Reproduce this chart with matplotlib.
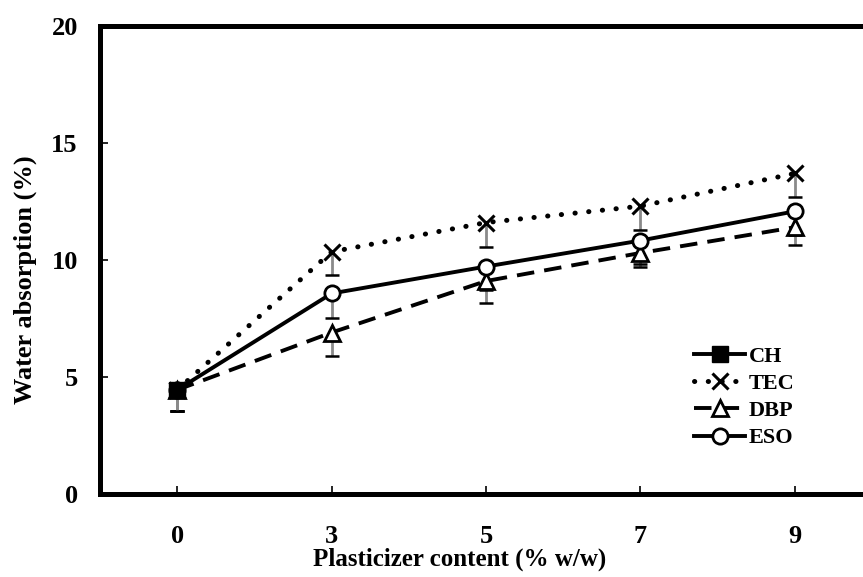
import numpy as np
from matplotlib import pyplot as plt
from matplotlib.lines import Line2D

plt.rcParams['font.family'] = ['Liberation Serif', 'DejaVu Serif']
plt.rcParams['font.weight'] = 'bold'

# data
categories = ['0', '3', '5', '7', '9']
ch = [4.45]
ch_err = [0.9]
tec = [4.45, 10.35, 11.6, 12.3, 13.7]
tec_err = [0.9, 1.0, 1.05, 1.0, 1.0]
dbp = [4.45, 6.9, 9.1, 10.3, 11.4]
dbp_err = [0.9, 1.0, 0.95, 0.6, 0.75]
eso = [4.45, 8.57, 9.72, 10.83, 12.08]
eso_err = [0.9, 1.05, 1.0, 1.0, 1.0]

W, H = 863, 577
fig = plt.figure(figsize=(W / 100, H / 100), dpi=100)
# axes box in pixels: left 100, right 872 (cut by figure edge), top 26, bottom 494
ax = fig.add_axes([100 / W, (H - 494) / H, 772 / W, 468 / H])

x = np.arange(len(categories))

dotted = (0, (0.05, 2.7))
dashed = (0, (4.5, 2.6))


def lower_errors(xs, ys, errs, z):
    # only the minus side of the bars shows in the picture
    ys = np.asarray(ys)
    errs = np.asarray(errs)
    ax.vlines(xs, ys - errs, ys, color='#8a8a8a', lw=2, zorder=z)
    ax.hlines(ys - errs, xs - 0.045, xs + 0.045, color='black', lw=1.8, zorder=z)


lower_errors(x, tec, tec_err, 2)
lower_errors(x, dbp, dbp_err, 2)
lower_errors(x, eso, eso_err, 2)
lower_errors(x[:1], ch, ch_err, 2)

ax.plot(x, tec, color='black', lw=3.6, linestyle=dotted, dash_capstyle='round',
        marker='x', ms=12, mew=2.2, zorder=3)
ax.plot(x, dbp, color='black', lw=2.8, linestyle=dashed,
        marker='^', ms=11, mfc='white', mec='black', mew=2, zorder=4)
ax.plot(x, eso, color='black', lw=2.8, linestyle='-',
        marker='o', ms=11, mfc='white', mec='black', mew=2, zorder=5)
ax.plot(x[:1], ch, color='black', lw=2.8, linestyle='-',
        marker='s', ms=12, mfc='black', mec='black', zorder=6)

ax.set_xlim(-0.5, len(categories) - 0.5)
ax.set_ylim(0, 20)
ax.set_yticks([0, 5, 10, 15, 20])
ax.set_xticks(x)
ax.set_xticklabels(categories)

for s in ['left', 'bottom', 'top', 'right']:
    ax.spines[s].set_linewidth(3.6)
ax.tick_params(axis='both', direction='in', length=6, width=1.2, labelsize=19)
ax.tick_params(axis='y', pad=16)
ax.tick_params(axis='x', pad=22)

ax.set_xlabel('Plasticizer content (% w/w)', fontsize=18, fontweight='bold', va='center')
ax.xaxis.set_label_coords((460 - 100) / 772, (494 - 559) / 468)
ax.set_ylabel('Water absorption (%)', fontsize=19, fontweight='bold', va='center')
ax.yaxis.set_label_coords((25 - 100) / 772, (494 - 280) / 468)

handles = [
    Line2D([], [], color='black', lw=2.8, marker='s', ms=12, mfc='black'),
    Line2D([], [], color='black', lw=3.6, linestyle=dotted, dash_capstyle='round',
           marker='x', ms=12, mew=2.2),
    Line2D([], [], color='black', lw=2.8, linestyle=dashed,
           marker='^', ms=11, mfc='white', mew=2),
    Line2D([], [], color='black', lw=2.8, marker='o', ms=11, mfc='white', mew=2),
]
ax.legend(handles, ['CH', 'TEC', 'DBP', 'ESO'], loc='upper left',
          bbox_to_anchor=(683 / W, (H - 335) / H), bbox_transform=fig.transFigure,
          frameon=False, fontsize=16, handlelength=2.3, handletextpad=0.15,
          labelspacing=0.3, borderpad=0)

fig.savefig('out.png', dpi=100)
